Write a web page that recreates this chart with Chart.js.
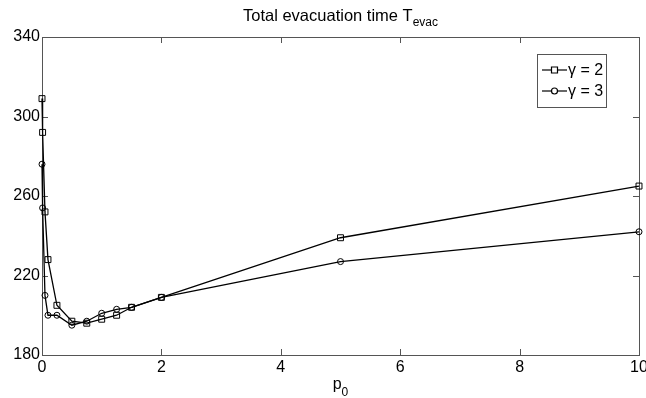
<!DOCTYPE html>
<html>
<head>
<meta charset="utf-8">
<script src="https://cdn.jsdelivr.net/npm/chart.js"></script>
<style>
  html, body { margin: 0; padding: 0; background: #fff; }
  #wrap { width: 646px; height: 398px; }
</style>
</head>
<body>
<div id="wrap"><canvas id="myChart"></canvas></div>
<script>
// p0 values and evacuation times
var p0Values = [0, 0.01, 0.05, 0.1, 0.25, 0.5, 0.75, 1, 1.25, 1.5, 2, 5, 10];
var gamma2 = [309, 292, 252, 228, 205, 197, 196, 198, 200, 204, 209, 239, 265];
var gamma3 = [276, 254, 210, 200, 200, 195, 197, 201, 203, 204, 209, 227, 242];
var xTicks = [0, 2, 4, 6, 8, 10];
var yTicks = [180, 220, 260, 300, 340];
var seriesNames = ["\u03b3 = 2", "\u03b3 = 3"];

var fontName = "'Liberation Sans', Arial, Helvetica, sans-serif";
var axisColor = "#555";

function toPoints(ys) {
    return p0Values.map(function (x, i) { return { x: x, y: ys[i] }; });
}

// frame, inward ticks, title, x label and legend in matlab style
var matlabBox = {
    id: 'matlabBox',
    beforeDatasetsDraw: function (chart) {
        var ctx = chart.ctx;
        var a = chart.chartArea;
        var xs = chart.scales.x, ys = chart.scales.y;
        ctx.save();
        ctx.strokeStyle = axisColor;
        ctx.lineWidth = 1;
        ctx.strokeRect(Math.round(a.left) + 0.5, Math.round(a.top) + 0.5,
            Math.round(a.right - a.left), Math.round(a.bottom - a.top));
        ctx.beginPath();
        xTicks.forEach(function (t) {
            var px = Math.round(xs.getPixelForValue(t)) + 0.5;
            ctx.moveTo(px, a.bottom); ctx.lineTo(px, a.bottom - 6);
            ctx.moveTo(px, a.top); ctx.lineTo(px, a.top + 6);
        });
        yTicks.forEach(function (t) {
            var py = Math.round(ys.getPixelForValue(t)) + 0.5;
            ctx.moveTo(a.left, py); ctx.lineTo(a.left + 6, py);
            ctx.moveTo(a.right, py); ctx.lineTo(a.right - 6, py);
        });
        ctx.stroke();
        ctx.restore();
    },
    afterDraw: function (chart) {
        var ctx = chart.ctx;
        var a = chart.chartArea;
        ctx.save();

        // title with subscript
        ctx.fillStyle = '#000';
        ctx.textBaseline = 'alphabetic';
        ctx.textAlign = 'left';
        var cx = (a.left + a.right) / 2;
        ctx.font = '16.5px ' + fontName;
        var main = 'Total evacuation time T';
        var w1 = ctx.measureText(main).width;
        ctx.font = '12px ' + fontName;
        var w2 = ctx.measureText('evac').width;
        var x0 = cx - (w1 + w2) / 2;
        ctx.font = '16.5px ' + fontName;
        ctx.fillText(main, x0, 21);
        ctx.font = '12px ' + fontName;
        ctx.fillText('evac', x0 + w1, 26);

        // x axis label p0
        ctx.font = '16px ' + fontName;
        var wp = ctx.measureText('p').width;
        ctx.font = '12px ' + fontName;
        var w0 = ctx.measureText('0').width;
        var xp = cx - (wp + w0) / 2;
        ctx.font = '16px ' + fontName;
        ctx.fillText('p', xp, 389);
        ctx.font = '12px ' + fontName;
        ctx.fillText('0', xp + wp, 396);

        // legend
        var bx = 537, by = 54, bw = 69, bh = 53;
        ctx.fillStyle = '#fff';
        ctx.fillRect(bx, by, bw, bh);
        ctx.strokeStyle = axisColor;
        ctx.lineWidth = 1;
        ctx.strokeRect(bx + 0.5, by + 0.5, bw, bh);
        chart.data.datasets.forEach(function (ds, i) {
            var ry = by + 16 + i * 21;
            ctx.strokeStyle = '#000';
            ctx.lineWidth = 1.2;
            ctx.beginPath();
            ctx.moveTo(bx + 5, ry); ctx.lineTo(bx + 30, ry);
            ctx.stroke();
            ctx.fillStyle = '#fff';
            ctx.beginPath();
            if (ds.pointStyle === 'rect') {
                ctx.rect(bx + 14.5, ry - 3, 6, 6);
            } else {
                ctx.arc(bx + 17.5, ry, 3, 0, Math.PI * 2);
            }
            ctx.fill();
            ctx.stroke();
            ctx.fillStyle = '#000';
            ctx.font = '16px ' + fontName;
            ctx.textBaseline = 'middle';
            ctx.fillText(ds.label, bx + 31, ry + 1);
        });
        ctx.restore();
    }
};

new Chart("myChart", {
    type: "line",
    data: {
        datasets: [{
            label: seriesNames[0],
            data: toPoints(gamma2),
            borderColor: "#000",
            borderWidth: 1.3,
            pointStyle: 'rect',
            pointRadius: 4.2,
            pointBorderWidth: 1,
            pointBorderColor: "#000",
            pointBackgroundColor: "rgba(0,0,0,0)",
            tension: 0,
            clip: false
        }, {
            label: seriesNames[1],
            data: toPoints(gamma3),
            borderColor: "#000",
            borderWidth: 1.3,
            pointStyle: 'circle',
            pointRadius: 3,
            pointBorderWidth: 1,
            pointBorderColor: "#000",
            pointBackgroundColor: "rgba(0,0,0,0)",
            tension: 0,
            clip: false
        }]
    },
    options: {
        responsive: true,
        maintainAspectRatio: false,
        animation: false,
        layout: { padding: { top: 37, right: 7, left: 0, bottom: 0 } },
        plugins: {
            legend: { display: false },
            title: { display: false },
            tooltip: { enabled: false }
        },
        scales: {
            x: {
                type: 'linear',
                min: 0,
                max: 10,
                grid: { display: false, drawTicks: false },
                border: { display: false },
                ticks: {
                    stepSize: 2,
                    padding: 3,
                    color: '#000',
                    maxRotation: 0,
                    font: { family: fontName, size: 16 }
                },
                afterFit: function (scale) {
                    scale.height = 43;
                    scale.paddingLeft = 0;
                    scale.paddingRight = 0;
                }
            },
            y: {
                min: 180,
                max: 340,
                grid: { display: false, drawTicks: false },
                border: { display: false },
                ticks: {
                    stepSize: 40,
                    padding: 2,
                    color: '#000',
                    font: { family: fontName, size: 16 }
                },
                afterFit: function (scale) {
                    scale.width = 42;
                    scale.paddingTop = 0;
                    scale.paddingBottom = 0;
                }
            }
        }
    },
    plugins: [matlabBox]
});
</script>
</body>
</html>
